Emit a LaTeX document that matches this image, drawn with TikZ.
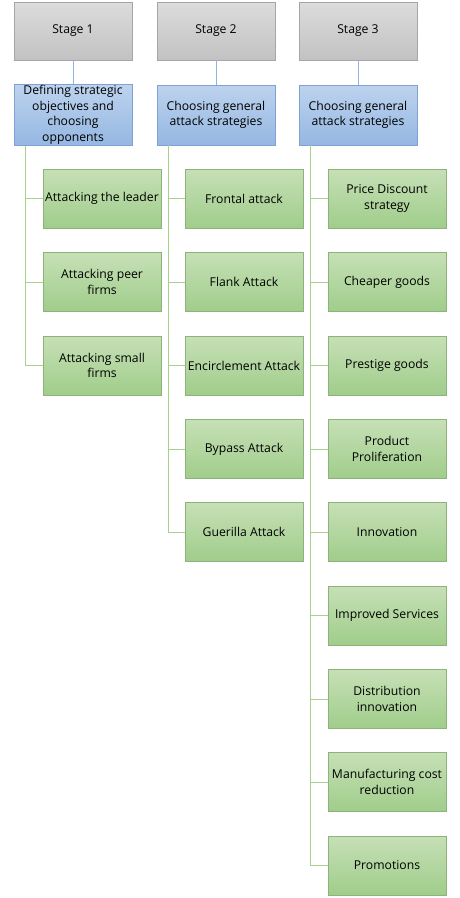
\documentclass[tikz,border=0pt]{standalone}
\usepackage{fontspec}
\setmainfont{Open Sans}
\definecolor{stagetop}{HTML}{DCDCDC}
\definecolor{stagebot}{HTML}{C2C2C2}
\definecolor{stageline}{HTML}{A6A6A6}
\definecolor{headtop}{HTML}{BDD3EE}
\definecolor{headbot}{HTML}{95B7E2}
\definecolor{headline}{HTML}{7FA2D2}
\definecolor{leaftop}{HTML}{C6E0B6}
\definecolor{leafbot}{HTML}{A0CD8B}
\definecolor{leafline}{HTML}{8DB27A}
\definecolor{bluewire}{HTML}{8DB4E2}
\definecolor{greenwire}{HTML}{A9D18E}

\begin{document}
\begin{tikzpicture}[x=1pt,y=-1pt,font=\fontsize{12.2}{15.5}\selectfont]
	% `stage' is used for the grey headers, `head' for the blue ones.
	% `leaf' is used for the green option boxes.
	\tikzstyle{stage} = [draw=stageline,top color=stagetop,bottom color=stagebot,minimum width=118pt,minimum height=58pt,align=center,inner sep=1pt]
	\tikzstyle{head} = [stage,draw=headline,top color=headtop,bottom color=headbot,minimum height=60pt]
	\tikzstyle{leaf} = [stage,draw=leafline,top color=leaftop,bottom color=leafbot,minimum height=59pt]
	\tikzstyle{bluelink} = [draw=bluewire,line width=0.8pt]
	\tikzstyle{greenlink} = [draw=greenwire,line width=0.8pt]
	%
	\useasboundingbox (0,0) rectangle (460,898);
	% Stage headers.
	\node[stage] (s1) at (73,31) {Stage 1};
	\node[stage] (s2) at (216,31) {Stage 2};
	\node[stage] (s3) at (358,31) {Stage 3};
	% Second row.
	\node[head] (b1) at (73,115) {Defining strategic\\objectives and\\choosing\\opponents};
	\node[head] (b2) at (216,115) {Choosing general\\attack strategies};
	\node[head] (b3) at (358,115) {Choosing general\\attack strategies};
	% First column.
	\node[leaf] (a1) at (102,198.5) {Attacking the leader};
	\node[leaf] (a2) at (102,282) {Attacking peer\\firms};
	\node[leaf] (a3) at (102,365.5) {Attacking small\\firms};
	% Second column.
	\node[leaf] (f1) at (244,198.5) {Frontal attack};
	\node[leaf] (f2) at (244,282) {Flank Attack};
	\node[leaf] (f3) at (244,365.5) {Encirclement Attack};
	\node[leaf] (f4) at (244,449) {Bypass Attack};
	\node[leaf] (f5) at (244,532) {Guerilla Attack};
	% Third column.
	\node[leaf] (g1) at (387,198.5) {Price Discount\\strategy};
	\node[leaf] (g2) at (387,282) {Cheaper goods};
	\node[leaf] (g3) at (387,365.5) {Prestige goods};
	\node[leaf] (g4) at (387,449) {Product\\Proliferation};
	\node[leaf] (g5) at (387,532) {Innovation};
	\node[leaf] (g6) at (387,615.5) {Improved Services};
	\node[leaf] (g7) at (387,699) {Distribution\\innovation};
	\node[leaf] (g8) at (387,782) {Manufacturing cost\\reduction};
	\node[leaf] (g9) at (387,865.5) {Promotions};
	% Draw links.
	\foreach \i in {1,2,3}
		\draw[bluelink] (s\i) -- (b\i);
	\foreach \i in {1,...,3}
		\draw[greenlink] ([xshift=12pt]b1.south west) |- (a\i.west);
	\foreach \i in {1,...,5}
		\draw[greenlink] ([xshift=12pt]b2.south west) |- (f\i.west);
	\foreach \i in {1,...,9}
		\draw[greenlink] ([xshift=12pt]b3.south west) |- (g\i.west);
%
\end{tikzpicture}
\end{document}
